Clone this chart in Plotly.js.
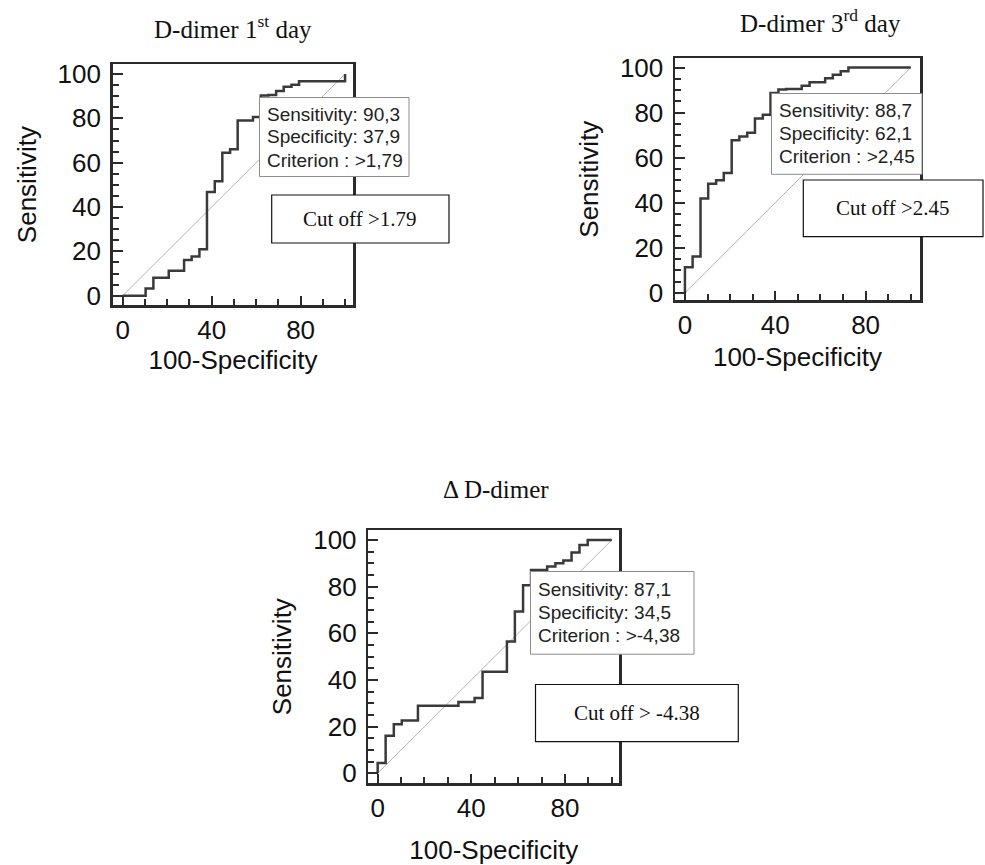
<!DOCTYPE html>
<html><head><meta charset="utf-8">
<script src="https://cdn.plot.ly/plotly-3.0.1.min.js"></script>
<style>html,body{margin:0;padding:0;background:#fff}#chart{width:985px;height:865px}</style>
</head><body><div id="chart"></div>
<script>
// ---- data (100-Specificity, Sensitivity) ----
const day1X = [0, 10.3, 13.8, 20.7, 27.6, 31.0, 34.5, 37.9, 41.4, 44.8, 48.3, 51.7, 58.6, 62.1, 65.5, 69.0, 72.4, 75.9, 79.3, 100];
const day1Y = [0, 3.2, 8.1, 11.3, 16.1, 17.7, 21.0, 46.8, 51.6, 64.5, 66.1, 79.0, 80.6, 90.3, 90.5, 92.3, 94.3, 95.2, 96.8, 100];

const day3X = [0, 0, 3.4, 6.9, 10.3, 13.8, 17.2, 20.7, 20.7, 24.1, 27.6, 31.0, 31.0, 34.5, 37.9, 41.4, 44.8, 51.7, 55.2, 62.1, 65.5, 69.0, 72.4, 100];
const day3Y = [0, 11.3, 16.1, 41.9, 48.4, 50.0, 53.2, 56.5, 67.7, 69.4, 71.0, 72.6, 77.4, 79.0, 88.7, 90.3, 90.5, 91.9, 93.5, 95.2, 96.8, 98.4, 100, 100];

const deltaX = [0, 0, 3.4, 6.9, 10.3, 17.2, 34.5, 41.4, 44.8, 55.2, 58.6, 62.1, 65.5, 72.4, 75.9, 79.3, 82.8, 86.2, 89.7, 100];
const deltaY = [0, 4.4, 16.1, 21.0, 22.6, 29.0, 30.6, 32.3, 43.5, 56.5, 69.4, 80.6, 87.1, 88.7, 90.0, 91.2, 94.7, 97.9, 100, 100];

const diagX = [0, 100];
const diagY = [0, 100];

const panelTitles = ['D-dimer 1<sup>st</sup> day', 'D-dimer 3<sup>rd</sup> day', '\u0394 D-dimer'];
const statLines = [
  ['Sensitivity: 90,3', 'Specificity: 37,9', 'Criterion : >1,79'],
  ['Sensitivity: 88,7', 'Specificity: 62,1', 'Criterion : >2,45'],
  ['Sensitivity: 87,1', 'Specificity: 34,5', 'Criterion : >-4,38']
];
const cutoffTexts = ['Cut off >1.79', 'Cut off >2.45', 'Cut off > -4.38'];

const xTickVals = [0, 40, 80];
const xTickText = ['0', '40', '80'];
const yTickVals = [0, 20, 40, 60, 80, 100];
const yTickText = ['0', '20', '40', '60', '80', '100'];
const xTitle = '100-Specificity';
const yTitle = 'Sensitivity';

// ---- layout helpers (pixel -> paper) ----
const W = 985, H = 865;
const px = v => v / W;
const py = v => 1 - v / H;

const SANS = 'Liberation Sans, Arial, sans-serif';
const SERIF = 'Liberation Serif, Times New Roman, serif';
const AX = '#2b2b2b';

function xAxis(d, r, anchor, standoff) {
  return {
    domain: [px(d[0]), px(d[1])], range: r, anchor: anchor,
    showgrid: false, zeroline: false, showline: true, mirror: true,
    linecolor: AX, linewidth: 2.5,
    ticks: 'inside', ticklen: 9, tickwidth: 2, tickcolor: AX,
    tickmode: 'array', tickvals: xTickVals, ticktext: xTickText,
    tickfont: {family: SANS, size: 26, color: '#111'},
    minor: {ticks: 'inside', dtick: 10, tick0: 0, ticklen: 6, tickwidth: 2, tickcolor: AX, showgrid: false},
    title: {text: xTitle, font: {family: SANS, size: 26, color: '#111'}, standoff: standoff},
    fixedrange: true
  };
}
function yAxis(d, r, anchor) {
  return {
    domain: [py(d[1]), py(d[0])], range: r, anchor: anchor,
    showgrid: false, zeroline: false, showline: true, mirror: true,
    linecolor: AX, linewidth: 2.5,
    ticks: 'inside', ticklen: 10, tickwidth: 2, tickcolor: AX,
    tickmode: 'array', tickvals: yTickVals, ticktext: yTickText,
    tickfont: {family: SANS, size: 26, color: '#111'},
    ticklabelstandoff: 4,
    minor: {ticks: 'inside', dtick: 5, tick0: 0, ticklen: 6, tickwidth: 2, tickcolor: AX, showgrid: false},
    title: {text: yTitle, font: {family: SANS, size: 26, color: '#111'}, standoff: 14},
    fixedrange: true
  };
}

const curve = (x, y, xa, ya, name) => ({
  x: x, y: y, xaxis: xa, yaxis: ya, type: 'scatter', mode: 'lines', name: name,
  line: {color: '#3a3a3a', width: 2.5, shape: 'hv'}, hoverinfo: 'skip'
});
const diag = (xa, ya) => ({
  x: diagX, y: diagY, xaxis: xa, yaxis: ya, type: 'scatter', mode: 'lines',
  line: {color: '#b4b4b4', width: 1}, hoverinfo: 'skip'
});

const data = [
  diag('x', 'y'), curve(day1X, day1Y, 'x', 'y', 'D-dimer 1st day'),
  diag('x2', 'y2'), curve(day3X, day3Y, 'x2', 'y2', 'D-dimer 3rd day'),
  diag('x3', 'y3'), curve(deltaX, deltaY, 'x3', 'y3', 'Delta D-dimer')
];

// box geometry in pixels: [left, top, right, bottom]
const statBoxes = [[259.5, 97.5, 409, 176.5], [771.5, 93.5, 922, 174.3], [530.5, 571.5, 694, 654.2]];
const cutBoxes = [[271.7, 195, 449, 243], [803.3, 180, 983, 236.7], [535.5, 684.5, 738.3, 741.7]];
const titlePos = [[233, 27], [820, 21], [496, 489]];

const shapes = [];
const annotations = [];
for (let i = 0; i < 3; i++) {
  const s = statBoxes[i], c = cutBoxes[i];
  shapes.push({type: 'rect', xref: 'paper', yref: 'paper', layer: 'above',
    x0: px(s[0]), x1: px(s[2]), y0: py(s[3]), y1: py(s[1]),
    fillcolor: '#ffffff', line: {color: '#8c8c8c', width: 1}});
  shapes.push({type: 'rect', xref: 'paper', yref: 'paper', layer: 'above',
    x0: px(c[0]), x1: px(c[2]), y0: py(c[3]), y1: py(c[1]),
    fillcolor: '#ffffff', line: {color: '#111111', width: 1.2}});
  const cy = (s[1] + s[3]) / 2;
  statLines[i].forEach((t, k) => {
    annotations.push({text: t, xref: 'paper', yref: 'paper', x: px(s[0] + 5), y: py(cy + (k - 1) * 23),
      xanchor: 'left', yanchor: 'middle', showarrow: false,
      font: {family: SANS, size: 19, color: '#222'}});
  });
  annotations.push({text: cutoffTexts[i], xref: 'paper', yref: 'paper',
    x: px((c[0] + c[2]) / 2), y: py((c[1] + c[3]) / 2), xanchor: 'center', yanchor: 'middle',
    showarrow: false, font: {family: SERIF, size: 21, color: '#111'}});
  annotations.push({text: panelTitles[i], xref: 'paper', yref: 'paper',
    x: px(titlePos[i][0]), y: py(titlePos[i][1]), xanchor: 'center', yanchor: 'middle',
    showarrow: false, font: {family: SERIF, size: 25, color: '#111'}});
}

const layout = {
  width: W, height: H, margin: {l: 0, r: 0, t: 0, b: 0},
  paper_bgcolor: '#ffffff', plot_bgcolor: '#ffffff', showlegend: false,
  xaxis: xAxis([112.7, 353.3], [-4.5, 103.7], 'y', 5),
  yaxis: yAxis([64.3, 305], [-4.2, 104.4], 'x'),
  xaxis2: xAxis([675, 920], [-4.4, 104.1], 'y2', 9),
  yaxis2: yAxis([58.3, 300], [-3.2, 104.1], 'x2'),
  xaxis3: xAxis([368.3, 619.3], [-4.0, 103.2], 'y3', 19),
  yaxis3: yAxis([530, 783.3], [-4.3, 104.3], 'x3'),
  shapes: shapes, annotations: annotations
};

Plotly.newPlot('chart', data, layout, {staticPlot: true, displayModeBar: false});
</script>
</body></html>
